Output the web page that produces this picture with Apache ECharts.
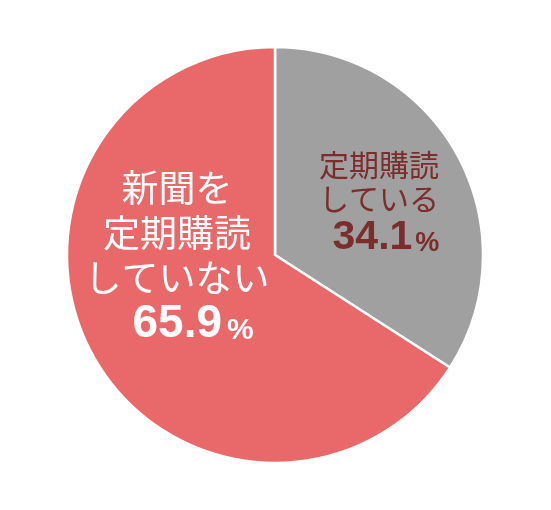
<!DOCTYPE html>
<html><head><meta charset="utf-8">
<script src="https://cdn.jsdelivr.net/npm/echarts@6/dist/echarts.min.js"></script>
<style>html,body{margin:0;padding:0;background:#fff}#c{width:551px;height:510px}</style>
</head><body><div id="c"></div>
<script>
const categories = ['定期購読している', '新聞を定期購読していない'];
const values = [34.1, 65.9];
const colors = ['#a0a0a0', '#e9696a'];

const chart = echarts.init(document.getElementById('c'), null, {renderer: 'canvas'});
const jp = '"Noto Sans CJK JP", "Noto Sans", sans-serif';
const num = '"Liberation Sans", Arial, sans-serif';

const labelCfg = [
  {
    position: 'inside', offset: [10, 0],
    formatter: p => '{a|定期購読}\n{a|している}\n{n|' + p.value.toFixed(1) + '}{p|%}',
    rich: {
      a: {fontFamily: jp, fontSize: 30, lineHeight: 34, color: '#7b2d2d', align: 'center'},
      n: {fontFamily: num, fontSize: 41, fontWeight: 'bold', lineHeight: 44, color: '#7b2d2d', padding: [0,0,0,14]},
      p: {fontFamily: num, fontSize: 27, fontWeight: 'bold', lineHeight: 44, color: '#7b2d2d', verticalAlign: 'bottom', padding: [0,0,3,3]}
    }
  },
  {
    position: 'inside', offset: [-4, -49],
    formatter: p => '{a|新聞を}\n{a|定期購読}\n{a|していない}\n{n|' + p.value.toFixed(1) + '}{p|%}',
    rich: {
      a: {fontFamily: jp, fontSize: 37, lineHeight: 45, color: '#ffffff', align: 'center'},
      n: {fontFamily: num, fontSize: 46, fontWeight: 'bold', lineHeight: 48, color: '#ffffff', padding: [0,0,0,32]},
      p: {fontFamily: num, fontSize: 30, fontWeight: 'bold', lineHeight: 48, color: '#ffffff', verticalAlign: 'bottom', padding: [0,0,3,5]}
    }
  }
];

chart.setOption({
  animation: false,
  series: [{
    type: 'pie',
    center: [275, 255],
    radius: [0, 208],
    startAngle: 90,
    clockwise: true,
    labelLine: {show: false},
    itemStyle: {borderColor: '#ffffff', borderWidth: 2.5},
    emphasis: {disabled: true},
    data: categories.map((c, i) => ({
      name: c, value: values[i],
      itemStyle: {color: colors[i]},
      label: Object.assign({show: true, align: 'center'}, labelCfg[i])
    }))
  }]
});
</script></body></html>
